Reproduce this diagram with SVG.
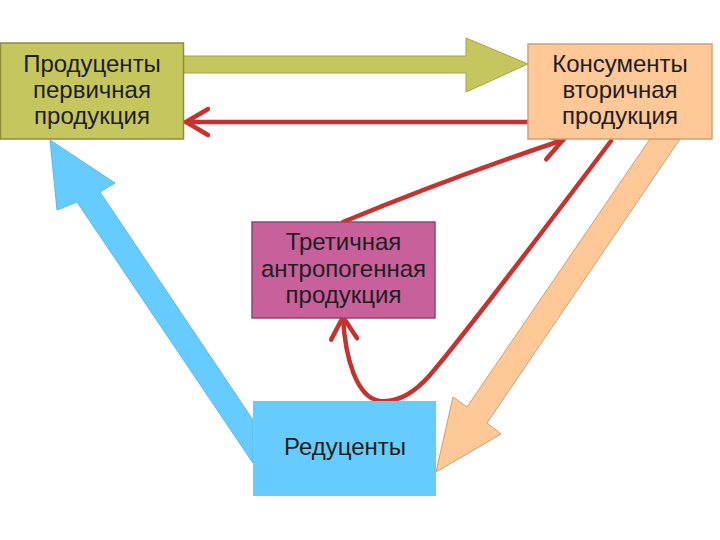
<svg xmlns="http://www.w3.org/2000/svg" width="720" height="540" viewBox="0 0 720 540">
<style>
  .lbl { font-family: "Liberation Sans", Arial, sans-serif; font-size: 24px; fill: #1e1e1e; text-anchor: middle; }
  .red { fill: none; stroke: #C8322E; stroke-width: 4.5; stroke-linecap: round; }
</style>
<defs>
  <marker id="ah" markerUnits="userSpaceOnUse" markerWidth="32" markerHeight="32" refX="25" refY="14" orient="auto" overflow="visible">
    <polyline points="3,1 25,14 3,27" fill="none" stroke="#C8322E" stroke-width="4.5" stroke-linecap="round" stroke-linejoin="miter"/>
  </marker>
</defs>
<rect width="720" height="540" fill="#ffffff"/>
<g id="connectors">
  <polygon id="green-arrow" points="183,56 466,56 466,38 528,64 466,92 466,73 183,73" fill="#C6C65E" stroke="#A4A448" stroke-width="1"/>
  <polygon id="blue-arrow" points="50,140 115,183 100,192 253,420 253,463 77,202 57,210" fill="#66CCFF" stroke="#5BB8E6" stroke-width="1"/>
  <polygon id="orange-arrow" points="650,139 680,139 487,423 501,434 436,472 453,397 467,407" fill="#FFC896" stroke="#C8A078" stroke-width="1"/>
  <path class="red" d="M528,122 L186,122" marker-end="url(#ah)"/>
  <path class="red" d="M343,222 Q452,177 563,140" marker-end="url(#ah)"/>
  <path class="red" d="M611,141 C540,235 462,338 430,375 C410,398 392,402 380,401 C356,398 345,356 343,317" marker-end="url(#ah)"/>
</g>
<g id="producers">
  <rect x="0.5" y="43" width="183" height="96" fill="#C6C65E" stroke="#8C8C40" stroke-width="1.5"/>
  <text class="lbl" x="92" y="72">Продуценты</text>
  <text class="lbl" x="92" y="98">первичная</text>
  <text class="lbl" x="92" y="124">продукция</text>
</g>
<g id="consumers">
  <rect x="528" y="44" width="184" height="95" fill="#FFC896" stroke="#D0A078" stroke-width="1.5"/>
  <text class="lbl" x="620" y="72">Консументы</text>
  <text class="lbl" x="620" y="98">вторичная</text>
  <text class="lbl" x="620" y="124">продукция</text>
</g>
<g id="tertiary">
  <rect x="252" y="222" width="183" height="96" fill="#C8609C" stroke="#8E4870" stroke-width="1.5"/>
  <text class="lbl" x="343.5" y="250">Третичная</text>
  <text class="lbl" x="343.5" y="277">антропогенная</text>
  <text class="lbl" x="343.5" y="303">продукция</text>
</g>
<g id="reducers">
  <rect x="253" y="401" width="183" height="95" fill="#66CCFF"/>
  <text class="lbl" x="345" y="455">Редуценты</text>
</g>
</svg>
